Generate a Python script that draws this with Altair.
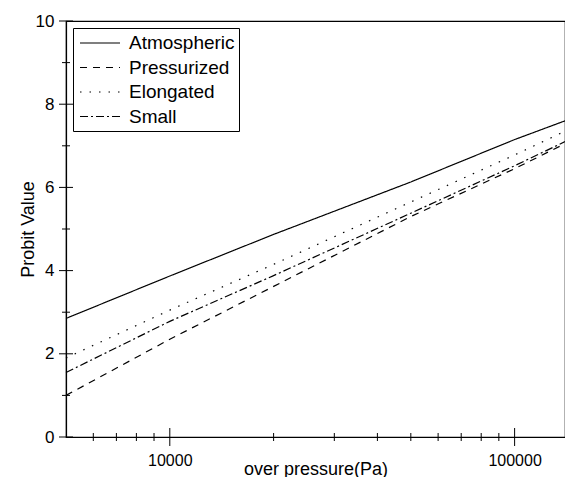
import altair as alt
import pandas as pd

# ---- data ----
pressure = [5000, 10000, 20000, 50000, 100000, 140000]
atmospheric = [2.85, 3.87, 4.87, 6.13, 7.15, 7.60]
pressurized = [1.00, 2.35, 3.62, 5.30, 6.45, 7.05]
elongated = [1.90, 3.05, 4.15, 5.65, 6.78, 7.35]
small = [1.55, 2.78, 3.88, 5.38, 6.52, 7.10]
series_names = ["Atmospheric", "Pressurized", "Elongated", "Small"]

y_major = [0, 2, 4, 6, 8, 10]
y_minor = [1, 3, 5, 7, 9]
x_major = [10000, 100000]
x_minor = [6000, 7000, 8000, 9000, 20000, 30000, 40000, 50000,
           60000, 70000, 80000, 90000]

rows = []
for name, vals in zip(series_names, [atmospheric, pressurized, elongated, small]):
    for p, v in zip(pressure, vals):
        rows.append({"pressure": p, "probit": v, "series": name})
df = pd.DataFrame(rows)

W, H = 499, 416
FONT = "Liberation Sans"

xscale = alt.Scale(type="log", domain=[5000, 140000], nice=False)
yscale = alt.Scale(domain=[0, 10], nice=False)
xaxis = alt.Axis(title="over pressure(Pa)", values=x_major, format="d",
                 labelPadding=15, labelFontSize=16,
                 titleBaseline="alphabetic", titleY=37)
yaxis = alt.Axis(title="Probit Value", values=y_major, format="d",
                 labelPadding=12, titleBaseline="alphabetic", titleX=-33)

lines = alt.Chart(df).mark_line(color="black", strokeWidth=1.2).encode(
    x=alt.X("pressure:Q", scale=xscale, axis=xaxis),
    y=alt.Y("probit:Q", scale=yscale, axis=yaxis),
    strokeDash=alt.StrokeDash(
        "series:N",
        scale=alt.Scale(domain=series_names,
                        range=[[1, 0], [7, 6], [1.5, 8], [8, 3, 2, 3]]),
        legend=alt.Legend(title=None, orient="none", legendX=7, legendY=7,
                          strokeColor="black", fillColor="white", padding=4,
                          symbolType="M-2,0H2", symbolSize=400,
                          symbolStrokeWidth=1.2, symbolStrokeColor="black",
                          symbolOffset=12,
                          labelFont=FONT, labelFontSize=19, labelColor="black",
                          labelOffset=18, rowPadding=3.5),
    ),
)

ymaj = alt.Chart(pd.DataFrame({"v": y_major})).mark_tick(
    orient="horizontal", size=14, thickness=1, color="black", opacity=1
).encode(y=alt.Y("v:Q", scale=yscale, axis=yaxis), x=alt.value(0))

ymin = alt.Chart(pd.DataFrame({"v": y_minor})).mark_tick(
    orient="horizontal", size=8, thickness=1, color="black", opacity=1
).encode(y=alt.Y("v:Q", scale=yscale, axis=yaxis), x=alt.value(0))

xmaj = alt.Chart(pd.DataFrame({"p": x_major})).mark_tick(
    orient="vertical", size=18, thickness=1, color="black", opacity=1
).encode(x=alt.X("p:Q", scale=xscale, axis=xaxis), y=alt.value(H))

xmin = alt.Chart(pd.DataFrame({"p": x_minor})).mark_tick(
    orient="vertical", size=8, thickness=1, color="black", opacity=1
).encode(x=alt.X("p:Q", scale=xscale, axis=xaxis), y=alt.value(H))

chart = alt.layer(lines, ymaj, ymin, xmaj, xmin).properties(
    width=W, height=H,
    autosize=alt.AutoSizeParams(type="none"),
    padding={"left": 58, "top": 13, "right": 0, "bottom": 40},
    background="white",
).configure_view(
    stroke="black", strokeWidth=1.2
).configure_axis(
    grid=False, ticks=False, domain=True, domainColor="black", domainWidth=1.2,
    labelFont=FONT, labelFontSize=17, labelColor="black",
    titleFont=FONT, titleFontSize=18, titleFontWeight="normal", titleColor="black",
)

chart.save("out.html", embed_options={"renderer": "svg", "actions": False})
